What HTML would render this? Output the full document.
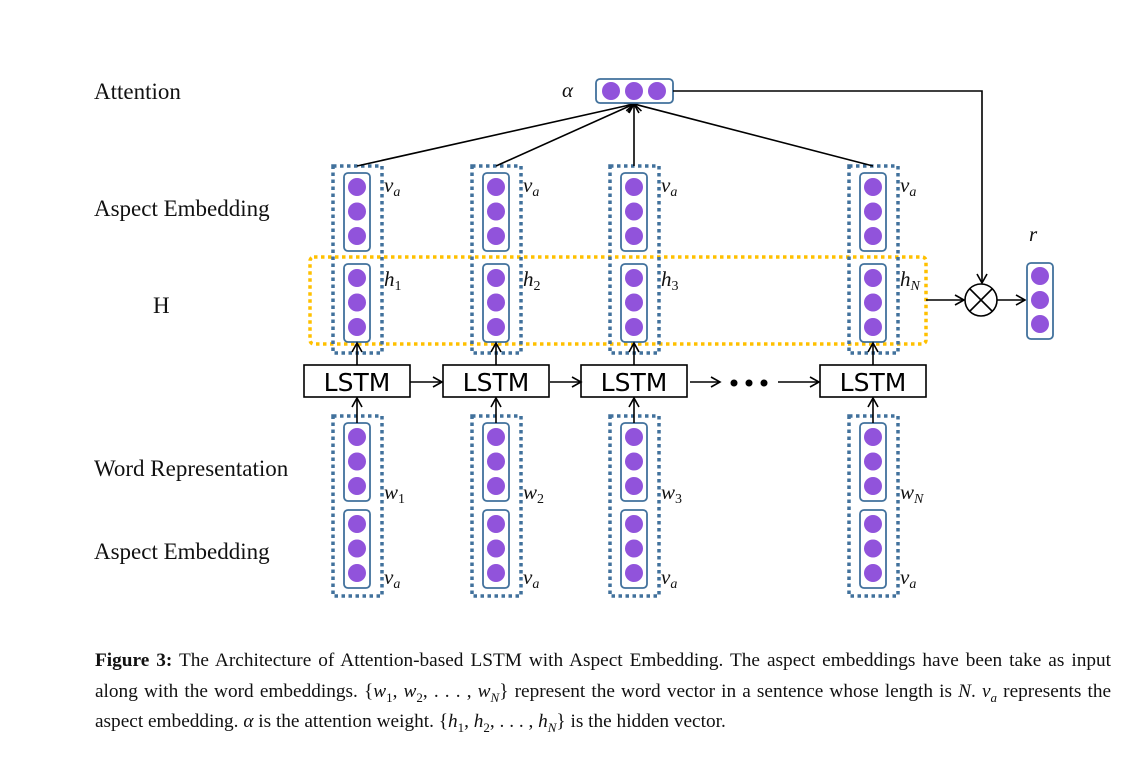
<!DOCTYPE html>
<html><head><meta charset="utf-8"><style>
body{margin:0;background:#fff;width:1131px;height:763px;overflow:hidden;position:relative;font-family:"Liberation Serif",serif}
.lbl{position:absolute;font-size:23px;color:#111;font-family:"Liberation Serif",serif}
.cap{position:absolute;left:95px;width:1016px;font-size:19.3px;color:#111;line-height:30.5px;top:646px}
.cap div{text-align:justify;text-align-last:justify;white-space:nowrap;height:30.5px}
.cap div.last{text-align-last:left}
.cap sub{font-size:13px;line-height:0}
</style></head><body>
<div class="lbl" style="left:94px;top:79px">Attention</div>
<div class="lbl" style="left:94px;top:196px">Aspect Embedding</div>
<div class="lbl" style="left:153px;top:293px">H</div>
<div class="lbl" style="left:94px;top:456px">Word Representation</div>
<div class="lbl" style="left:94px;top:539px">Aspect Embedding</div>
<svg id="d" width="1131" height="640" style="position:absolute;left:0;top:0" font-family="Liberation Serif, serif">
<defs><marker id="ar" markerWidth="12" markerHeight="12" refX="10" refY="6" orient="auto" markerUnits="userSpaceOnUse"><path d="M1,1 L10,6 L1,11" fill="none" stroke="#000" stroke-width="1.6"/></marker></defs>
</svg>
<div class="cap">
<div><b>Figure 3:</b> The Architecture of Attention-based LSTM with Aspect Embedding. The aspect embeddings have been take as input</div>
<div>along with the word embeddings. {<i>w</i><sub>1</sub>, <i>w</i><sub>2</sub>, . . . , <i>w</i><sub><i>N</i></sub>} represent the word vector in a sentence whose length is <i>N</i>. <i>v</i><sub><i>a</i></sub> represents the</div>
<div class="last">aspect embedding. <i>α</i> is the attention weight. {<i>h</i><sub>1</sub>, <i>h</i><sub>2</sub>, . . . , <i>h</i><sub><i>N</i></sub>} is the hidden vector.</div>
</div>
<script>
const cols=[357,496,634,873];
const hsub=['1','2','3','N'];
const wsub=['1','2','3','N'];
const s=document.getElementById('d');
const NS='http://www.w3.org/2000/svg';
function mk(t,a,p){const e=document.createElementNS(NS,t);for(const k in a)e.setAttribute(k,a[k]);(p||s).appendChild(e);return e;}
function vec(cx,y0,name){
 const g=mk('g',{});
 
 
 mk('rect',{x:cx-13,y:y0,width:26,height:78,rx:4,fill:'#fff',stroke:'#41719c','stroke-width':1.8},g);
 for(let i=0;i<3;i++)mk('circle',{cx:cx,cy:y0+14+i*24.5,r:9,fill:'#9153db'},g);
 return g;
}
function txt(x,y,main,sub,name){
 const t=mk('text',{x:x,y:y,'font-size':21,'font-style':'italic',fill:'#111'});
 
 
 t.innerHTML=main+'<tspan font-size="14" dy="4" font-style="'+(sub.match(/[0-9]/)?'normal':'italic')+'">'+sub+'</tspan>';
}
const hb=mk('rect',{x:310,y:257,width:616,height:87,rx:4,fill:'none',stroke:'#ffc000','stroke-width':3.5,'stroke-dasharray':'3.5 3.5'});


cols.forEach((cx,i)=>{
 const o=mk('rect',{x:cx-24,y:166,width:49,height:187,fill:'none',stroke:'#41719c','stroke-width':3.5,'stroke-dasharray':'3.5 3.5'});
 
 
 const o2=mk('rect',{x:cx-24,y:416,width:49,height:180,fill:'none',stroke:'#41719c','stroke-width':3.5,'stroke-dasharray':'3.5 3.5'});
 
 
 vec(cx,173,'aspect-vector-top');
 vec(cx,264,'hidden-vector');
 vec(cx,423,'word-vector');
 vec(cx,510,'aspect-vector-bottom');
 txt(cx+27,192,'v','a','va-label');
 txt(cx+27,286,'h',hsub[i],'h-label');
 txt(cx+27,499,'w',wsub[i],'w-label');
 txt(cx+27,584,'v','a','va-label');
 const lb=mk('rect',{x:cx-53,y:365,width:106,height:32,fill:'#fff',stroke:'#000','stroke-width':1.6});
 
 
 const lt=mk('text',{x:cx,y:391,'text-anchor':'middle','font-size':25,'font-family':'DejaVu Sans, sans-serif',fill:'#000'});
 lt.textContent='LSTM';
 
 
 mk('line',{x1:cx,y1:365,x2:cx,y2:343,stroke:'#000','stroke-width':1.6,'marker-end':'url(#ar)'});
 mk('line',{x1:cx,y1:423,x2:cx,y2:398,stroke:'#000','stroke-width':1.6,'marker-end':'url(#ar)'});
 const at=mk('line',{x1:cx,y1:166,x2:634,y2:104,stroke:'#000','stroke-width':1.6,'marker-end':'url(#ar)'});
 
 
});
[[410,442],[550,581],[690,720],[778,819]].forEach(a=>mk('line',{x1:a[0],y1:382,x2:a[1],y2:382,stroke:'#000','stroke-width':1.6,'marker-end':'url(#ar)'}));
[734,749,764].forEach(x=>mk('circle',{cx:x,cy:383,r:3.5,fill:'#000'}));
const ag=mk('g',{});


mk('rect',{x:596,y:79,width:77,height:24,rx:4,fill:'#fff',stroke:'#41719c','stroke-width':1.8},ag);
[611,634,657].forEach(x=>mk('circle',{cx:x,cy:91,r:9,fill:'#9153db'},ag));
const al=mk('text',{x:562,y:97,'font-size':21,'font-style':'italic',fill:'#111'});al.textContent='α';


mk('polyline',{points:'673,91 982,91 982,283',fill:'none',stroke:'#000','stroke-width':1.6,'marker-end':'url(#ar)'});
const og=mk('g',{});


mk('circle',{cx:981,cy:300,r:16,fill:'#fff',stroke:'#000','stroke-width':1.6},og);
mk('line',{x1:970,y1:289,x2:992,y2:311,stroke:'#000','stroke-width':1.6},og);
mk('line',{x1:992,y1:289,x2:970,y2:311,stroke:'#000','stroke-width':1.6},og);
mk('line',{x1:926,y1:300,x2:964,y2:300,stroke:'#000','stroke-width':1.6,'marker-end':'url(#ar)'});
mk('line',{x1:997,y1:300,x2:1025,y2:300,stroke:'#000','stroke-width':1.6,'marker-end':'url(#ar)'});
const rg=mk('g',{});


mk('rect',{x:1027,y:263,width:26,height:76,rx:4,fill:'#fff',stroke:'#41719c','stroke-width':1.8},rg);
[276,300,324].forEach(y=>mk('circle',{cx:1040,cy:y,r:9,fill:'#9153db'},rg));
const rl=mk('text',{x:1029,y:241,'font-size':21,'font-style':'italic',fill:'#111'});rl.textContent='r';


</script>
</body></html>
